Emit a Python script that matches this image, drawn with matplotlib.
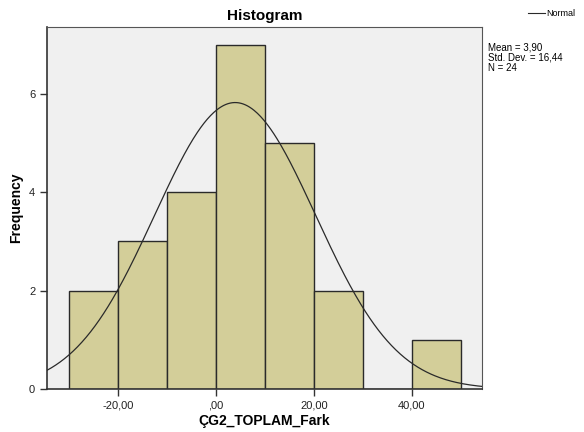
import numpy as np
import matplotlib
matplotlib.use("Agg")
import matplotlib.pyplot as plt
from matplotlib.lines import Line2D

plt.rcParams['font.family'] = ['Liberation Sans', 'DejaVu Sans']

# histogram bins (width 10) and counts
bin_edges = [-30, -20, -10, 0, 10, 20, 30, 40, 50]
counts = [2, 3, 4, 7, 5, 2, 0, 1]
mean = 3.90
std = 16.44
n = 24

xticks = [-20, 0, 20, 40]
xtick_labels = ["-20,00", ",00", "20,00", "40,00"]
yticks = [0, 2, 4, 6]

fig = plt.figure(figsize=(5.84, 4.32), dpi=100)
ax = fig.add_axes([0.0805, 0.0995, 0.7449, 0.838])
ax.set_facecolor("#f0f0f0")

lefts = np.array(bin_edges[:-1])
widths = np.diff(bin_edges)
ax.bar(lefts, counts, width=widths, align="edge", color="#d3ce99",
       edgecolor="#2a2a2a", linewidth=1.0, zorder=2)

xlim = (-34.5, 54.3)
xs = np.linspace(xlim[0], xlim[1], 400)
bw = 10
ys = n * bw / (std * np.sqrt(2 * np.pi)) * np.exp(-0.5 * ((xs - mean) / std) ** 2)
ax.plot(xs, ys, color="#2a2a2a", linewidth=0.9, zorder=3)

ax.set_xlim(*xlim)
ax.set_ylim(0, 7.36)
ax.set_xticks(xticks)
ax.set_xticklabels(xtick_labels)
ax.set_yticks(yticks)
ax.tick_params(direction="out", length=5, width=1, colors="#333333",
               labelsize=8, labelcolor="#222222")

for side in ["left", "bottom"]:
    ax.spines[side].set_color("#333333")
    ax.spines[side].set_linewidth(1.2)
for side in ["top", "right"]:
    ax.spines[side].set_color("#555555")
    ax.spines[side].set_linewidth(0.8)

ax.set_xlabel("ÇG2_TOPLAM_Fark", fontsize=10, fontweight="bold", labelpad=2)
ax.set_ylabel("Frequency", fontsize=10, fontweight="bold", labelpad=4)
ax.set_title("Histogram", fontsize=11, fontweight="bold", pad=5)

# legend line and summary statistics to the right of the plot
fig.add_artist(Line2D([0.904, 0.934], [0.969, 0.969], color="#2a2a2a",
                      linewidth=0.8, transform=fig.transFigure))
fig.text(0.936, 0.969, "Normal", fontsize=6.5, va="center", ha="left")
fig.text(0.836, 0.902,
         "Mean = 3,90\nStd. Dev. = 16,44\nN = 24",
         fontsize=7, va="top", ha="left", linespacing=1.05)

fig.savefig("out.png", dpi=100)
